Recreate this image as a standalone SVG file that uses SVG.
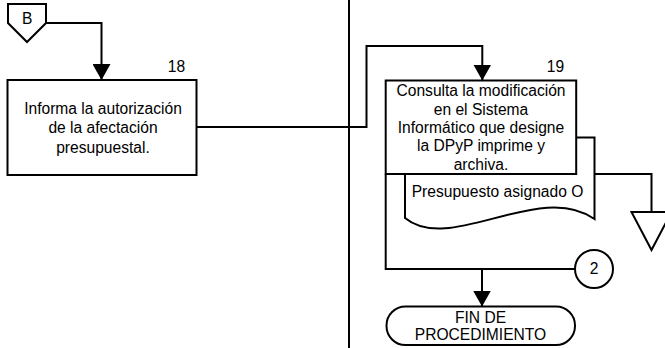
<svg xmlns="http://www.w3.org/2000/svg" width="665" height="348" viewBox="0 0 665 348">
<style>
.s{fill:#fff;stroke:#000;stroke-width:2}
.c{fill:none;stroke:#000;stroke-width:2}
.t{font-family:"Liberation Sans",Arial,sans-serif;font-size:15.6px;fill:#000;text-anchor:middle}
</style>
<defs>
<marker id="ah" markerUnits="userSpaceOnUse" markerWidth="18" markerHeight="16" viewBox="0 0 18 16" refX="9" refY="16" orient="auto-start-reverse">
<path d="M0,0 L18,0 L9,16 Z" fill="#000"/>
</marker>
<marker id="ahd" markerUnits="userSpaceOnUse" markerWidth="18" markerHeight="16" viewBox="0 0 18 16" refX="9" refY="16" orient="0">
<path d="M0,0 L18,0 L9,16 Z" fill="#000"/>
</marker>
</defs>
<line x1="349" y1="0" x2="349" y2="348" class="c"/>
<g id="offpage-B">
<path d="M8,4 H46 V23 L27,42 L8,23 Z" class="s"/>
<text x="27.3" y="24" class="t">B</text>
</g>
<g id="node-18">
<rect x="7.5" y="80" width="189" height="95" class="s"/>
<text x="176.5" y="71.7" class="t">18</text>
<text x="103" y="114" class="t">Informa la autorización</text>
<text x="103" y="133.4" class="t">de la afectación</text>
<text x="103" y="152.7" class="t">presupuestal.</text>
</g>
<g id="doc-presupuesto">
<path d="M405,137.5 H594.5 V219 C540,180 450,255 405,218 Z" class="s"/>
<text x="497.5" y="196.7" class="t">Presupuesto asignado O</text>
</g>
<g id="node-19">
<rect x="385.7" y="80.5" width="190.5" height="93.5" class="s"/>
<text x="555.5" y="71.7" class="t">19</text>
<text x="481" y="96.3" class="t">Consulta la modificación</text>
<text x="481" y="114.7" class="t">en el Sistema</text>
<text x="481" y="133.1" class="t">Informático que designe</text>
<text x="481" y="151.4" class="t">la DPyP imprime y</text>
<text x="481" y="169.7" class="t">archiva.</text>
</g>
<g id="archive">
<path d="M631.5,212 H671.5 L651.5,250 Z" class="s"/>
</g>
<g id="connector-2">
<circle cx="594" cy="269" r="19" class="s"/>
<text x="594" y="273.6" class="t">2</text>
</g>
<g id="fin">
<rect x="386.5" y="306.5" width="188.5" height="38.5" rx="19" ry="19" class="s"/>
<text x="480.5" y="323.3" class="t">FIN DE</text>
<text x="480.5" y="340" class="t">PROCEDIMIENTO</text>
</g>
<g id="connectors">
<path d="M46,23 H101.5 V80" class="c" marker-end="url(#ahd)"/>
<path d="M196.5,127 H366.5 V46 H482.3 V80.5" class="c" marker-end="url(#ahd)"/>
<path d="M594.5,174 H651.5 V212" class="c"/>
<path d="M385.7,174 V269 H575" class="c"/>
<path d="M482,269 V306.5" class="c" marker-end="url(#ahd)"/>
</g>
</svg>
